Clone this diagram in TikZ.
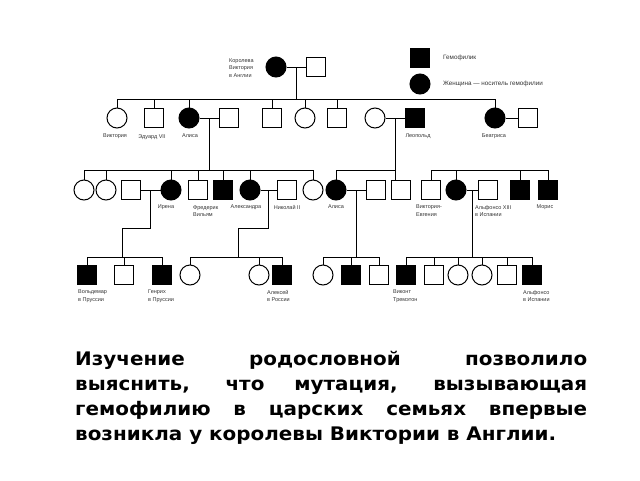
\documentclass[tikz,border=0pt]{standalone}
\usepackage{fontspec}
\setmainfont{DejaVu Sans}
\newfontfamily\lblfont{Liberation Sans}
\newfontfamily\parafont[FakeStretch=1.065]{DejaVu Sans}
\usetikzlibrary{calc}

\tikzset{
  male/.style={draw, rectangle, minimum size=19pt, inner sep=0pt, line width=1pt},
  female/.style={draw, circle, minimum size=20pt, inner sep=0pt, line width=1pt},
  hemo/.style={male, fill=black},
  carrier/.style={female, fill=black},
  lbl/.style={font=\lblfont\fontsize{5.5}{7.5}\selectfont, text=black!80, inner sep=0pt, align=left},
  tie/.style={line width=0.9pt},
}

\begin{document}
\begin{tikzpicture}[x=1pt, y=-1pt]
    \useasboundingbox (0,0) rectangle (640,480);
    % legend
    \node[hemo] (keyh) at (420,58) {};
    \node[carrier] (keyc) at (420,84) {};
    \node[lbl, anchor=west, font=\lblfont\fontsize{6.3}{8}\selectfont] (keyhl) at (443,58) {Гемофилик};
    \node[lbl, anchor=west, font=\lblfont\fontsize{6.3}{8}\selectfont] (keycl) at (443,84) {Женщина — носитель гемофилии};

    % generation 1
    \node[carrier] (queen) at (276,67) {};
    \node[male] (albert) at (316,67) {};
    \node[lbl, anchor=west] (lqueen) at (229,68) {Королева\\Виктория\\в Англии};
    \draw[tie] (queen) -- (albert);
    \coordinate (m1) at ($(queen.east)!0.5!(albert.west)$);

    % generation 2
    \node[female] (vic) at (117,118) {};
    \node[male] (edw) at (154,118) {};
    \node[carrier] (alice) at (189,118) {};
    \node[male] (louis) at (229,118) {};
    \node[male] (son1) at (272,118) {};
    \node[female] (dau1) at (305,118) {};
    \node[male] (son2) at (337,118) {};
    \node[female] (helena) at (375,118) {};
    \node[hemo] (leo) at (415,118) {};
    \node[carrier] (beat) at (495,118) {};
    \node[male] (henry) at (528,118) {};
    \coordinate (bar1) at (0,99);
    \draw[tie] (m1) -- (m1 |- bar1);
    \draw[tie] (vic.north |- bar1) -- (beat.north |- bar1);
    \foreach \c in {vic,edw,alice,son1,dau1,son2,beat}
        \draw[tie] (\c.north) -- (\c.north |- bar1);
    \draw[tie] (alice) -- (louis);
    \draw[tie] (helena) -- (leo);
    \draw[tie] (beat) -- (henry);
    \node[lbl, anchor=north] (lvic) at (115,134) {Виктория};
    \node[lbl, anchor=north] (ledw) at (152,134) {Эдуард VII};
    \node[lbl, anchor=north] (lalice) at (190,134) {Алиса};
    \node[lbl, anchor=north] (lleo) at (418,134) {Леопольд};
    \node[lbl, anchor=north] (lbeat) at (494,134) {Беатриса};
    \coordinate (m2) at ($(alice.east)!0.5!(louis.west)$);
    \coordinate (m3) at ($(helena.east)!0.5!(leo.west)$);

    % generation 3
    \node[female] (ella) at (84,190) {};
    \node[female] (vica) at (106,190) {};
    \node[male] (heinrich) at (131,190) {};
    \node[carrier] (irena) at (171,190) {};
    \node[male] (fw) at (198,190) {};
    \node[hemo] (ernst) at (223,190) {};
    \node[carrier] (alexandra) at (250,190) {};
    \node[male] (nicholas) at (287,190) {};
    \node[female] (maria) at (313,190) {};
    \node[carrier] (alice3) at (336,190) {};
    \node[male] (alex) at (376,190) {};
    \node[male] (charles) at (401,190) {};
    \node[male] (vsq) at (431,190) {};
    \node[carrier] (ena) at (456,190) {};
    \node[male] (alfonso) at (488,190) {};
    \node[hemo] (leopold) at (520,190) {};
    \node[hemo] (maurice) at (548,190) {};
    \coordinate (bar2) at (0,170);
    \draw[tie] (m2) -- (m2 |- bar2);
    \draw[tie] (ella.north |- bar2) -- (maria.north |- bar2);
    \foreach \c in {ella,vica,irena,fw,ernst,alexandra,maria}
        \draw[tie] (\c.north) -- (\c.north |- bar2);
    \draw[tie] (m3) -- (m3 |- charles.north);
    \draw[tie] (alice3.north) |- (m3 |- bar2);
    \draw[tie] (vsq.north |- bar2) -- (maurice.north |- bar2);
    \foreach \c in {vsq,ena,leopold,maurice}
        \draw[tie] (\c.north) -- (\c.north |- bar2);
    \draw[tie] (heinrich) -- (irena);
    \draw[tie] (alexandra) -- (nicholas);
    \draw[tie] (alice3) -- (alex);
    \draw[tie] (ena) -- (alfonso);
    \node[lbl, anchor=north] (lirena) at (166,205) {Ирена};
    \node[lbl, anchor=north west] (lfw) at (193,205) {Фредерик\\Вильям};
    \node[lbl, anchor=north] (lalexandra) at (246,205) {Александра};
    \node[lbl, anchor=north] (lnicholas) at (287,205) {Николай II};
    \node[lbl, anchor=north] (lalice3) at (336,205) {Алиса};
    \node[lbl, anchor=north west] (lena) at (416,205) {Виктория-\\Евгения};
    \node[lbl, anchor=north west] (lalfonso) at (475,205) {Альфонсо XIII\\в Испании};
    \node[lbl, anchor=north] (lmaurice) at (545,205) {Морис};
    \coordinate (m4) at ($(heinrich.east)!0.5!(irena.west)$);
    \coordinate (m5) at ($(alexandra.east)!0.5!(nicholas.west)$);
    \coordinate (m6) at ($(alice3.east)!0.5!(alex.west)$);
    \coordinate (m7) at ($(ena.east)!0.5!(alfonso.west)$);

    % generation 4
    \node[hemo] (waldemar) at (87,275) {};
    \node[male] (sigi) at (124,275) {};
    \node[hemo] (heinr) at (162,275) {};
    \node[female] (olga) at (190,275) {};
    \node[female] (anast) at (259,275) {};
    \node[hemo] (alexei) at (282,275) {};
    \node[female] (may) at (323,275) {};
    \node[hemo] (rupert) at (351,275) {};
    \node[male] (maur) at (379,275) {};
    \node[hemo] (alf) at (406,275) {};
    \node[male] (jaime) at (434,275) {};
    \node[female] (beatriz) at (458,275) {};
    \node[female] (cristina) at (482,275) {};
    \node[male] (juan) at (507,275) {};
    \node[hemo] (gonzalo) at (532,275) {};
    \coordinate (bar3) at (0,257);
    \coordinate (k1) at (122,228);
    \coordinate (k2) at (238,228);
    \draw[tie] (m4) |- (k1) -- (k1 |- bar3);
    \draw[tie] (m5) |- (k2) -- (k2 |- bar3);
    \draw[tie] (m6) -- (m6 |- bar3);
    \draw[tie] (m7) -- (m7 |- bar3);
    \draw[tie] (waldemar.north |- bar3) -- (heinr.north |- bar3);
    \draw[tie] (olga.north |- bar3) -- (alexei.north |- bar3);
    \draw[tie] (may.north |- bar3) -- (maur.north |- bar3);
    \draw[tie] (alf.north |- bar3) -- (gonzalo.north |- bar3);
    \foreach \c in {waldemar,sigi,heinr,olga,anast,alexei,may,rupert,maur,alf,jaime,beatriz,cristina,juan,gonzalo}
        \draw[tie] (\c.north) -- (\c.north |- bar3);
    \node[lbl, anchor=north west] (lwaldemar) at (78,290) {Вольдемар\\в Пруссии};
    \node[lbl, anchor=north west] (lheinr) at (148,290) {Генрих\\в Пруссии};
    \node[lbl, anchor=north west] (lalexei) at (267,290) {Алексей\\в России};
    \node[lbl, anchor=north west] (lalf) at (393,290) {Виконт\\Тремэтон};
    \node[lbl, anchor=north west] (lgonzalo) at (523,290) {Альфонсо\\в Испании};

    % conclusion
    \node[anchor=north west, inner sep=0pt, text width=512pt, align=justify,
          font=\parafont\bfseries\fontsize{18.7}{25}\selectfont] (txt) at (75,351)
        {Изучение родословной позволило\linebreak выяснить, что мутация, вызывающая\linebreak гемофилию в царских семьях впервые\linebreak возникла у королевы Виктории в Англии.};
\end{tikzpicture}
\end{document}
